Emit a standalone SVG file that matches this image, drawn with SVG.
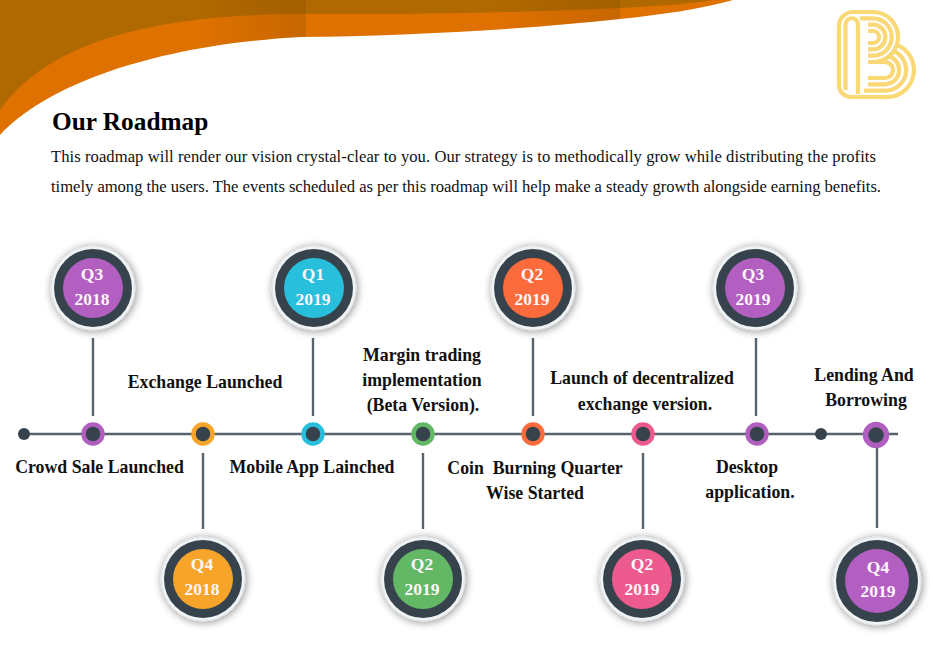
<svg xmlns="http://www.w3.org/2000/svg" width="930" height="665" viewBox="0 0 930 665">
<style>
text{font-family:"Liberation Serif","Times New Roman",serif}
.title{font-size:25.300px;font-weight:700;fill:#000}
.body{font-size:16.600px;fill:#111}
.lab{font-size:17.800px;font-weight:700;fill:#111;text-anchor:middle}
.q{font-size:17.500px;font-weight:700;fill:#fdf6fb;text-anchor:middle}
.ring{fill:#f1f4f5;stroke:#dfe3e6;stroke-width:1;filter:url(#sh)}
.dark{fill:#37434c}
.dot{fill:#37434c}
.conn{stroke:#59636b;stroke-width:2.400;fill:none}
.logo{fill:none;stroke:#fbd876;stroke-width:4.200}
</style>
<defs>
<filter id="sh" x="-40%" y="-40%" width="180%" height="180%"><feGaussianBlur in="SourceAlpha" stdDeviation="4"/><feOffset dx="1" dy="1"/><feComponentTransfer><feFuncA type="linear" slope="0.45"/></feComponentTransfer><feMerge><feMergeNode/><feMergeNode in="SourceGraphic"/></feMerge></filter>
<linearGradient id="shade1" x1="0" x2="1" y1="0" y2="0"><stop offset="0" stop-color="#6b3c00" stop-opacity="0"/><stop offset="1" stop-color="#6b3c00" stop-opacity=".2"/></linearGradient>
<clipPath id="banner"><path d="M0 135C50 82 160 45 300 37C400 36 520 30 620 19C660 15 700 9 733 0H0Z"/></clipPath>
</defs>
<rect width="930" height="665" fill="#fff"/>
<g id="banner-shape">
<path fill="#de7100" d="M0 135C50 82 160 45 300 37C400 36 520 30 620 19C660 15 700 9 733 0H0Z"/>
<path fill="#b06800" d="M0 110C40 55 120 15 300 14C400 14 520 13 620 8C650 6.500 690 4 713 0H0Z"/>
<g clip-path="url(#banner)">
<rect x="200" y="0" width="106" height="60" fill="url(#shade1)"/>
<rect x="500" y="0" width="120" height="30" fill="url(#shade1)"/>
</g>
</g>
<g id="logo">
<path class="logo" d="M853 97C844 97 839 92 839 85V26A14 14 0 0 1 853 12H873A25 25 0 0 1 873 62H868"/>
<path class="logo" d="M845.500 90V24.500A6.250 6.250 0 0 1 858 24.500V94"/>
<path class="logo" d="M860 18.300H873A18.700 18.700 0 0 1 873 55.700H868"/>
<path class="logo" d="M868 24.600H873A12.400 12.400 0 0 1 873 49.400H868"/>
<path class="logo" d="M868 31H873A6 6 0 0 1 873 43H868"/>
<path class="logo" d="M868 62H885A8 8 0 0 1 885 78H868"/>
<path class="logo" d="M889 56.300A14.300 14.300 0 0 1 885 84.300H868"/>
<path class="logo" d="M893.500 51A20.600 20.600 0 0 1 885 90.600H864"/>
<path class="logo" d="M897 45A27 27 0 0 1 885 97H853"/>
</g>
<g id="intro">
<text class="title" x="52" y="130">Our Roadmap</text>
<text class="body" x="51" y="162" textLength="825" lengthAdjust="spacing">This roadmap will render our vision crystal-clear to you. Our strategy is to methodically grow while distributing the profits</text>
<text class="body" x="51" y="192" textLength="830" lengthAdjust="spacing">timely among the users. The events scheduled as per this roadmap will help make a steady growth alongside earning benefits.</text>
</g>
<g id="connectors">
<line class="conn" x1="24" y1="434" x2="898" y2="434"/>
<line class="conn" x1="93" y1="338" x2="93" y2="416"/>
<line class="conn" x1="203" y1="453" x2="203" y2="529"/>
<line class="conn" x1="313" y1="338" x2="313" y2="416"/>
<line class="conn" x1="423" y1="453" x2="423" y2="529"/>
<line class="conn" x1="533" y1="338" x2="533" y2="416"/>
<line class="conn" x1="643" y1="453" x2="643" y2="529"/>
<line class="conn" x1="756" y1="338" x2="756" y2="416"/>
<line class="conn" x1="877" y1="448" x2="877" y2="528"/>
</g>
<g id="dot-start"><circle class="dot" cx="24" cy="434" r="6"/></g>
<g id="dot-end"><circle class="dot" cx="821" cy="434" r="6"/></g>
<g id="m1"><circle class="dot" cx="93" cy="434" r="9.500" stroke="#b05fc0" stroke-width="4.500"/></g>
<g id="m2"><circle class="dot" cx="203" cy="434" r="9.500" stroke="#f7a52a" stroke-width="4.500"/></g>
<g id="m3"><circle class="dot" cx="313" cy="434" r="9.500" stroke="#27bfdc" stroke-width="4.500"/></g>
<g id="m4"><circle class="dot" cx="423" cy="434" r="9.500" stroke="#63b866" stroke-width="4.500"/></g>
<g id="m5"><circle class="dot" cx="533" cy="434" r="9.500" stroke="#fb6b3c" stroke-width="4.500"/></g>
<g id="m6"><circle class="dot" cx="643" cy="434" r="9.500" stroke="#ec5a8e" stroke-width="4.500"/></g>
<g id="m7"><circle class="dot" cx="757" cy="434" r="9.500" stroke="#b05fc0" stroke-width="4.500"/></g>
<g id="m8"><circle class="dot" cx="876" cy="435" r="10.500" stroke="#b05fc0" stroke-width="5.500"/></g>
<g id="q3-2018"><circle class="ring" cx="93" cy="288" r="42"/><circle class="dark" cx="93" cy="288" r="39"/><circle cx="93" cy="288" r="30" fill="#b35fc2"/><text class="q" x="92" y="280">Q3</text><text class="q" x="92" y="305">2018</text></g>
<g id="q1-2019"><circle class="ring" cx="314" cy="288" r="42"/><circle class="dark" cx="314" cy="288" r="39"/><circle cx="314" cy="288" r="30" fill="#27bfdc"/><text class="q" x="313" y="280">Q1</text><text class="q" x="313" y="305">2019</text></g>
<g id="q2-2019a"><circle class="ring" cx="533" cy="288" r="42"/><circle class="dark" cx="533" cy="288" r="39"/><circle cx="533" cy="288" r="30" fill="#fb6b3c"/><text class="q" x="532" y="280">Q2</text><text class="q" x="532" y="305">2019</text></g>
<g id="q3-2019"><circle class="ring" cx="755" cy="288" r="42"/><circle class="dark" cx="755" cy="288" r="39"/><circle cx="755" cy="288" r="30" fill="#b35fc2"/><text class="q" x="753" y="280">Q3</text><text class="q" x="753" y="305">2019</text></g>
<g id="q4-2018"><circle class="ring" cx="203" cy="579" r="42"/><circle class="dark" cx="203" cy="579" r="39"/><circle cx="203" cy="579" r="30" fill="#f7a52a"/><text class="q" x="202" y="570">Q4</text><text class="q" x="202" y="595">2018</text></g>
<g id="q2-2019b"><circle class="ring" cx="423" cy="579" r="42"/><circle class="dark" cx="423" cy="579" r="39"/><circle cx="423" cy="579" r="30" fill="#63b866"/><text class="q" x="422" y="570">Q2</text><text class="q" x="422" y="595">2019</text></g>
<g id="q2-2019c"><circle class="ring" cx="642" cy="579" r="42"/><circle class="dark" cx="642" cy="579" r="39"/><circle cx="642" cy="579" r="30" fill="#ec5a8e"/><text class="q" x="642" y="570">Q2</text><text class="q" x="642" y="595">2019</text></g>
<g id="q4-2019"><circle class="ring" cx="877" cy="581" r="44"/><circle class="dark" cx="877" cy="581" r="41"/><circle cx="877" cy="581" r="32" fill="#b35fc2"/><text class="q" x="878" y="573">Q4</text><text class="q" x="878" y="597">2019</text></g>
<g id="labels">
<text class="lab" x="99.500" y="473">Crowd Sale Launched</text>
<text class="lab" x="205" y="388">Exchange Launched</text>
<text class="lab" x="312" y="473">Mobile App Lainched</text>
<text class="lab" x="422" y="361">Margin trading</text>
<text class="lab" x="422" y="386">implementation</text>
<text class="lab" x="423" y="411">(Beta Version).</text>
<text class="lab" x="535" y="474" xml:space="preserve">Coin  Burning Quarter</text>
<text class="lab" x="535" y="499">Wise Started</text>
<text class="lab" x="642" y="384">Launch of decentralized</text>
<text class="lab" x="645" y="410">exchange version.</text>
<text class="lab" x="747" y="473">Desktop</text>
<text class="lab" x="750" y="498">application.</text>
<text class="lab" x="864" y="381">Lending And</text>
<text class="lab" x="866" y="406">Borrowing</text>
</g>
</svg>
